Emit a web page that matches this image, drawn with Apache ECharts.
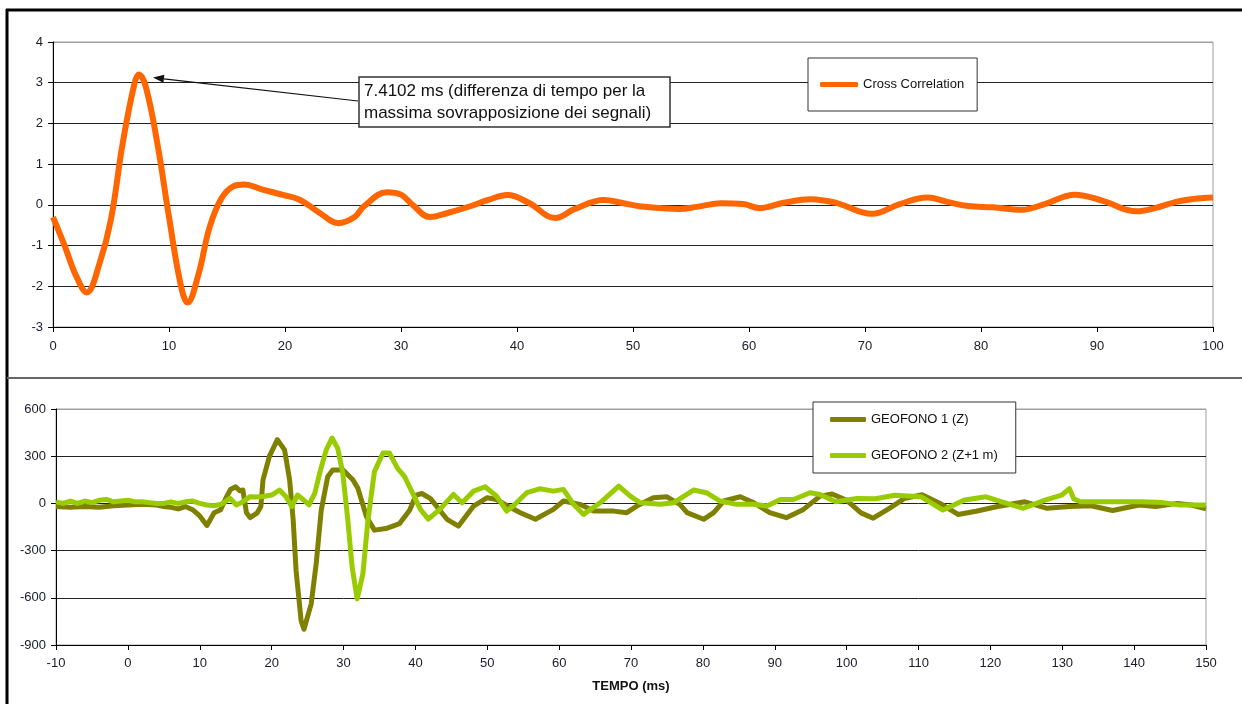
<!DOCTYPE html>
<html><head><meta charset="utf-8">
<script src="https://cdn.jsdelivr.net/npm/echarts@6/dist/echarts.min.js"></script>
<style>html,body{margin:0;padding:0;background:#fff}#c{width:1242px;height:704px}</style>
</head><body><div id="c"></div>
<script>
// ---- data ----
const ccTime  = [0,1,2,2.9,4,5,6,7,7.4,8,9,10,11,11.6,12.5,13.5,14.5,15.5,16.5,18,19.9,21.3,23,24.6,26,26.8,28.8,30,31,32.5,34,35.9,37.5,39.2,41,43.3,45,47.5,49,50.7,54,55.5,57.6,59.5,60.9,63,65.3,67.5,70.6,73,75.4,77,78.9,81,83.5,85.5,88.1,90.5,93.4,95,96.9,98.5,100];
const ccValue = [-0.3,-1.0,-1.75,-2.15,-1.45,-0.35,1.5,2.95,3.2,2.9,1.5,-0.3,-1.95,-2.4,-1.75,-0.55,0.15,0.45,0.5,0.38,0.24,0.12,-0.2,-0.45,-0.3,-0.04,0.31,0.25,0,-0.3,-0.2,-0.04,0.12,0.24,0.05,-0.32,-0.1,0.12,0.05,-0.04,-0.1,-0.05,0.04,0.02,-0.08,0.05,0.14,0.05,-0.22,0.02,0.18,0.08,-0.03,-0.06,-0.12,0.02,0.25,0.1,-0.16,-0.08,0.08,0.15,0.18];

const g1Time  = [-10,-8,-6,-4,-2,0,2,4,5,6,7,8,9,10,11,12,12.9,13.7,14.3,15,15.6,16,16.5,17,18,18.5,18.8,19.7,20.8,21.8,22.5,23,23.4,24.1,24.5,25.5,26.2,26.9,27.8,28.5,29.9,31.3,32,33.2,34.3,35.9,37.8,39.2,40.1,40.9,42.1,44.4,46,48.1,50,51.3,53,54.6,56.7,59.2,60.6,62.9,64.8,67.6,69.4,70.8,73.1,75,76.8,77.8,80.1,81.5,82.9,85.2,87.1,89.3,91.6,94,96.3,98,100,102,103.7,106,108,110.5,113,115.5,118,121,124.8,127.9,131,134,137,140.7,143,146,148,150];
const g1Value = [-20,-25,-20,-25,-15,-10,-5,-10,-20,-25,-35,-20,-40,-80,-140,-60,-40,40,90,105,80,85,-60,-90,-60,-20,150,300,405,340,150,-106,-426,-745,-800,-640,-383,-43,170,213,213,150,96,-85,-170,-160,-128,-43,53,63,30,-101,-144,-17,36,25,-20,-59,-101,-38,15,-6,-49,-49,-59,-17,36,42,-6,-59,-101,-59,15,42,4,-59,-91,-38,46,60,20,-60,-94,-30,30,55,0,-70,-50,-20,10,-31,-20,-15,-45,-10,-20,0,-10,-35];

const g2Time  = [-10,-9,-8,-7,-6,-5,-4,-3,-2,-1,0,1,2,3,4,5,6,7,8,9,10,11,12,13,14.2,15.1,16,17,18,19,20,21.1,22,22.8,23.6,24.5,25.2,26,26.8,27.6,28.4,29.2,29.9,30.6,31.2,31.9,32.7,33.4,34.3,35.5,36.4,37.5,38.5,39.4,40.7,41.8,43.4,45.3,46.5,48.1,49.7,51.3,52.7,53.6,55.5,57.3,59.2,60.6,62,63.4,65.7,68.3,69.9,71.3,74.1,75.9,78.7,80.5,82.4,84.7,87.1,88.9,90.8,92.6,94.9,96.3,98.5,101.4,104,106.7,110.4,113.4,116.4,119.4,121.6,124.6,127.6,129.9,131,131.6,132.5,135,138,141,144,146.3,150];
const g2Value = [10,0,15,0,15,5,20,25,10,15,20,10,10,5,0,0,10,0,10,15,0,-10,-15,-5,32,-10,10,43,40,45,53,85,43,-20,53,20,-10,64,213,340,415,351,192,-106,-405,-607,-447,-106,202,320,320,224,170,85,-38,-100,-38,57,4,78,106,46,-49,-17,68,93,78,89,-6,-70,4,110,46,4,-6,4,85,68,15,-6,-6,-17,25,25,68,57,10,31,30,52,42,-42,21,42,10,-31,21,52,94,30,10,10,10,10,5,-10,-10];

const topXRange = [0, 100, 10];
const topYRange = [-3, 4, 1];
const botXRange = [-10, 150, 10];
const botYRange = [-900, 600, 300];

const seriesNames = ['Cross Correlation', 'GEOFONO 1 (Z)', 'GEOFONO 2 (Z+1 m)'];
const xTitle = 'TEMPO (ms)';
const annotationLines = ['7.4102 ms (differenza di tempo per la', 'massima sovrapposizione dei segnali)'];
const peakTime = 7.4102, peakValue = 3.2;

// ---- chart ----
const FONT = '"Liberation Sans", Arial, sans-serif';
const pairs = (xs, ys) => xs.map((x, i) => [x, ys[i]]);
const chart = echarts.init(document.getElementById('c'), null, {renderer: 'canvas'});

function splitColors(range) {
  const n = Math.round((range[1] - range[0]) / range[2]) + 1;
  const arr = [];
  for (let i = 0; i < n; i++) arr.push(i === n - 1 ? '#a0a0a0' : '#222');
  return arr;
}
const axisLabel = {color: '#1a1a2a', fontSize: 13, fontFamily: FONT};
const axisLine = {show: true, onZero: false, lineStyle: {color: '#000', width: 1}};
const axisTick = {show: true, length: 5, lineStyle: {color: '#000'}};

chart.setOption({
  animation: false,
  backgroundColor: '#fff',
  grid: [
    {left: 53, top: 42, width: 1160, height: 285, show: true, borderColor: '#a0a0a0', borderWidth: 1},
    {left: 56, top: 409, width: 1150, height: 236, show: true, borderColor: '#a0a0a0', borderWidth: 1}
  ],
  xAxis: [
    {type: 'value', gridIndex: 0, min: topXRange[0], max: topXRange[1], interval: topXRange[2],
     axisLine: axisLine, axisTick: axisTick,
     splitLine: {show: false}, axisLabel: Object.assign({margin: 13}, axisLabel)},
    {type: 'value', gridIndex: 1, min: botXRange[0], max: botXRange[1], interval: botXRange[2],
     axisLine: axisLine, axisTick: axisTick,
     splitLine: {show: false}, axisLabel: Object.assign({margin: 12}, axisLabel),
     name: xTitle, nameLocation: 'middle', nameGap: 35,
     nameTextStyle: {fontWeight: 'bold', fontSize: 13, fontFamily: FONT, color: '#111'}}
  ],
  yAxis: [
    {type: 'value', gridIndex: 0, min: topYRange[0], max: topYRange[1], interval: topYRange[2],
     axisLine: axisLine, axisTick: axisTick,
     splitLine: {show: true, lineStyle: {color: splitColors(topYRange), width: 1}},
     axisLabel: Object.assign({margin: 10}, axisLabel)},
    {type: 'value', gridIndex: 1, min: botYRange[0], max: botYRange[1], interval: botYRange[2],
     axisLine: axisLine, axisTick: axisTick,
     splitLine: {show: true, lineStyle: {color: splitColors(botYRange), width: 1}},
     axisLabel: Object.assign({margin: 10}, axisLabel)}
  ],
  legend: [
    {data: [seriesNames[0]], left: 808, top: 58, orient: 'horizontal', icon: 'roundRect',
     itemWidth: 38, itemHeight: 5, padding: [20, 13, 20, 12],
     backgroundColor: '#fff', borderColor: '#333', borderWidth: 1,
     textStyle: {fontSize: 13, fontFamily: FONT, color: '#111'}},
    {data: [seriesNames[1], seriesNames[2]], left: 813, top: 402, orient: 'vertical', icon: 'roundRect',
     itemWidth: 36, itemHeight: 5, itemGap: 23, padding: [11, 18, 11, 17],
     backgroundColor: '#fff', borderColor: '#333', borderWidth: 1,
     textStyle: {fontSize: 13, fontFamily: FONT, color: '#111'}}
  ],
  series: [
    {name: seriesNames[0], type: 'line', xAxisIndex: 0, yAxisIndex: 0, data: pairs(ccTime, ccValue),
     smooth: 0.4, showSymbol: false, color: '#FF6600', lineStyle: {width: 6, color: '#FF6600'}},
    {name: seriesNames[1], type: 'line', xAxisIndex: 1, yAxisIndex: 1, data: pairs(g1Time, g1Value),
     smooth: false, showSymbol: false, color: '#808000', lineStyle: {width: 5, color: '#808000', join: 'round'}},
    {name: seriesNames[2], type: 'line', xAxisIndex: 1, yAxisIndex: 1, data: pairs(g2Time, g2Value),
     smooth: false, showSymbol: false, color: '#99CC00', lineStyle: {width: 5, color: '#99CC00', join: 'round'}}
  ]
});

// frame lines, annotation box and arrow pointing to the peak
const tip = chart.convertToPixel({xAxisIndex: 0, yAxisIndex: 0}, [peakTime, peakValue]);
const tx = tip[0] + 14, ty = tip[1] + 3;
const sx = 358, sy = 101;
const ang = Math.atan2(ty - sy, tx - sx);
const hl = 11, hw = 4;
const bx = tx - hl * Math.cos(ang), by = ty - hl * Math.sin(ang);
const head = [[tx, ty],
  [bx + hw * Math.sin(ang), by - hw * Math.cos(ang)],
  [bx - hw * Math.sin(ang), by + hw * Math.cos(ang)]];

chart.setOption({
  graphic: [
    {type: 'line', shape: {x1: 6, y1: 10, x2: 1242, y2: 10}, style: {stroke: '#000', lineWidth: 3}, z: 100},
    {type: 'line', shape: {x1: 7, y1: 9, x2: 7, y2: 704}, style: {stroke: '#000', lineWidth: 3}, z: 100},
    {type: 'line', shape: {x1: 7, y1: 378, x2: 1242, y2: 378}, style: {stroke: '#666', lineWidth: 2}, z: 100},
    {type: 'line', shape: {x1: sx, y1: sy, x2: bx, y2: by}, style: {stroke: '#111', lineWidth: 1.2}, z: 100},
    {type: 'polygon', shape: {points: head}, style: {fill: '#111'}, z: 100},
    {type: 'rect', shape: {x: 359, y: 77, width: 311, height: 50}, style: {fill: '#fff', stroke: '#333', lineWidth: 1.5}, z: 100},
    {type: 'text', x: 364, y: 80, style: {text: annotationLines.join('\n'), font: '17px ' + FONT, lineHeight: 22, fill: '#111'}, z: 101}
  ]
});
</script>
</body></html>
